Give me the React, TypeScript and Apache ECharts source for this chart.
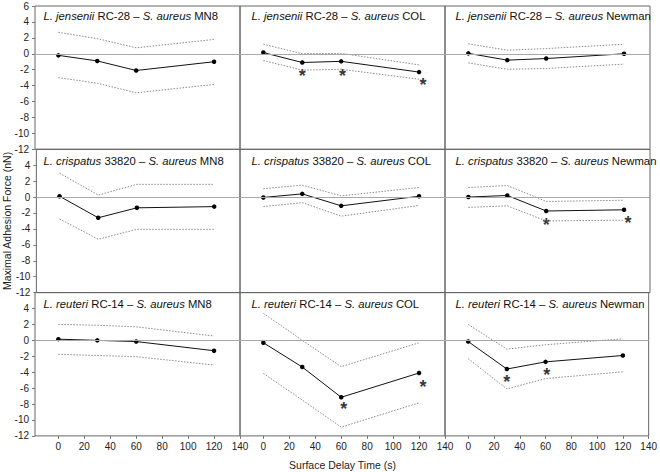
import React, { useEffect, useRef } from 'react';
import * as echarts from 'echarts';

const times = [0, 30, 60, 120];
const xTicks = [0, 20, 40, 60, 80, 100, 120, 140];
const yTicksTop = [-12, -10, -8, -6, -4, -2, 0, 2, 4, 6];
const yTicksOther = [-12, -10, -8, -6, -4, -2, 0, 2, 4];

const lactobacilli = ['L. jensenii', 'L. crispatus', 'L. reuteri'];
const lactoStrains = ['RC-28', '33820', 'RC-14'];
const aureusStrains = ['MN8', 'COL', 'Newman'];

const meanValues = [
  [-0.2, -0.9, -2.1, -1.0],
  [0.15, -1.1, -0.95, -2.3],
  [0.05, -0.8, -0.6, 0.0],
  [0.1, -2.6, -1.35, -1.2],
  [-0.05, 0.4, -1.1, 0.1],
  [0.0, 0.2, -1.75, -1.6],
  [0.15, 0.0, -0.15, -1.3],
  [-0.3, -3.35, -7.15, -4.1],
  [-0.15, -3.6, -2.7, -1.9],
];
const upperValues = [
  [2.7, 1.9, 0.75, 1.8],
  [1.2, 0.0, 0.05, -1.4],
  [1.25, 0.45, 0.65, 1.2],
  [3.0, 0.25, 1.6, 1.6],
  [1.05, 1.5, 0.15, 1.2],
  [1.2, 1.45, -0.55, -0.4],
  [2.0, 1.9, 1.7, 0.55],
  [3.4, 0.0, -3.3, -0.3],
  [2.0, -1.1, -0.55, 0.2],
];
const lowerValues = [
  [-3.0, -3.7, -4.9, -3.85],
  [-0.85, -2.05, -1.95, -3.2],
  [-1.15, -1.95, -1.85, -1.3],
  [-2.75, -5.3, -4.05, -4.05],
  [-1.2, -0.7, -2.4, -1.05],
  [-1.3, -1.1, -3.0, -2.9],
  [-1.75, -1.9, -2.05, -3.1],
  [-4.15, -7.5, -10.9, -7.85],
  [-2.3, -6.1, -4.8, -3.95],
];
// significance markers (*) : [time, value]
const starPoints: number[][][] = [
  [],
  [[30, -2.35], [61, -2.3], [123, -3.45]],
  [],
  [],
  [],
  [[60, -3.0], [123, -2.7]],
  [],
  [[62, -8.15], [123, -5.3]],
  [[30, -4.7], [61, -3.85]],
];

const FONT = 'Liberation Sans, Arial, sans-serif';

export default function App() {
  const ref = useRef<HTMLDivElement>(null);
  useEffect(() => {
    if (!ref.current) return;
    const chart = echarts.init(ref.current, undefined, { renderer: 'svg' });
    const grids: any[] = [];
    const xAxes: any[] = [];
    const yAxes: any[] = [];
    const titles: any[] = [];
    const series: any[] = [];
    const left0 = 35;
    const top0 = 6;
    const w = 205;
    const h = 143.3;
    const titleLeft = [43.5, 251.5, 455.5];
    const titleTop = [10, 155, 298];
    for (let r = 0; r < 3; r++) {
      for (let c = 0; c < 3; c++) {
        const i = r * 3 + c;
        grids.push({
          left: left0 + c * w,
          top: top0 + r * h,
          width: w,
          height: h,
          show: true,
          borderColor: '#666',
          borderWidth: 1,
          backgroundColor: 'transparent',
        });
        xAxes.push({
          type: 'value',
          gridIndex: i,
          min: -18,
          max: 140,
          position: 'bottom',
          axisLine: { show: false, onZero: false },
          splitLine: { show: false },
          axisTick: {
            show: r === 2,
            customValues: xTicks,
            length: 3,
            lineStyle: { color: '#777' },
          },
          axisLabel: {
            show: r === 2,
            customValues: xTicks,
            margin: 6,
            fontSize: 10,
            fontFamily: FONT,
            color: '#222',
          },
          name: i === 7 ? 'Surface Delay Time (s)' : '',
          nameLocation: 'middle',
          nameGap: 24,
          nameTextStyle: { fontSize: 10.5, fontFamily: FONT, color: '#222' },
        });
        yAxes.push({
          type: 'value',
          gridIndex: i,
          min: -12,
          max: 6,
          interval: 2,
          position: 'left',
          axisLine: { show: false, onZero: false },
          splitLine: { show: false },
          axisTick: {
            show: c === 0,
            customValues: r === 0 ? yTicksTop : yTicksOther,
            length: 3,
            lineStyle: { color: '#777' },
          },
          axisLabel: {
            show: c === 0,
            customValues: r === 0 ? yTicksTop : yTicksOther,
            margin: 6,
            fontSize: 10,
            fontFamily: FONT,
            color: '#222',
          },
          name: i === 3 ? 'Maximal Adhesion Force (nN)' : '',
          nameLocation: 'middle',
          nameGap: 23,
          nameTextStyle: { fontSize: 10.5, fontFamily: FONT, color: '#222' },
        });
        titles.push({
          text: `{i|${lactobacilli[r]}} ${lactoStrains[r]} – {i|S. aureus} ${aureusStrains[c]}`,
          left: titleLeft[c],
          top: titleTop[r],
          padding: 0,
          textStyle: {
            fontSize: 11.3,
            fontWeight: 'normal',
            fontFamily: FONT,
            color: '#111',
            rich: {
              i: { fontStyle: 'italic', fontSize: 11.3, fontFamily: FONT, color: '#111' },
            },
          },
        });
        series.push({
          type: 'line',
          xAxisIndex: i,
          yAxisIndex: i,
          data: times.map((t, k) => [t, upperValues[i][k]]),
          symbol: 'none',
          lineStyle: { color: '#8a8a8a', width: 1, type: [1.5, 1.5] },
          markLine: {
            silent: true,
            symbol: 'none',
            label: { show: false },
            lineStyle: { color: '#a8a8a8', width: 1, type: 'solid' },
            data: [{ yAxis: 0 }],
          },
        });
        series.push({
          type: 'line',
          xAxisIndex: i,
          yAxisIndex: i,
          data: times.map((t, k) => [t, lowerValues[i][k]]),
          symbol: 'none',
          lineStyle: { color: '#8a8a8a', width: 1, type: [1.5, 1.5] },
        });
        series.push({
          type: 'line',
          xAxisIndex: i,
          yAxisIndex: i,
          data: times.map((t, k) => [t, meanValues[i][k]]),
          symbol: 'circle',
          symbolSize: 4.5,
          itemStyle: { color: '#000' },
          lineStyle: { color: '#111', width: 1 },
        });
        if (starPoints[i].length) {
          series.push({
            type: 'scatter',
            xAxisIndex: i,
            yAxisIndex: i,
            data: starPoints[i],
            symbol: 'circle',
            symbolSize: 1,
            itemStyle: { color: 'rgba(0,0,0,0)' },
            label: {
              show: true,
              position: 'inside',
              formatter: '*',
              fontSize: 18,
              fontWeight: 'bold',
              fontFamily: FONT,
              color: '#000',
              offset: [0, 4],
            },
          });
        }
      }
    }
    chart.setOption({
      animation: false,
      backgroundColor: '#fff',
      title: titles,
      grid: grids,
      xAxis: xAxes,
      yAxis: yAxes,
      series,
    });
    return () => chart.dispose();
  }, []);
  return (
    <div
      ref={ref}
      style={{ position: 'fixed', left: 0, top: 0, width: 660, height: 472 }}
    />
  );
}
